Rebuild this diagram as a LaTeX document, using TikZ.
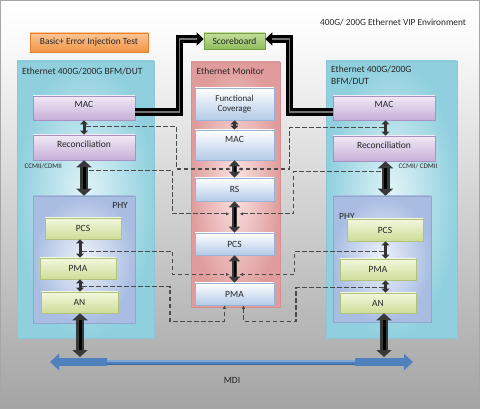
\documentclass[tikz,border=0pt]{standalone}
\usepackage{fontspec}
\setmainfont{Carlito}
\usetikzlibrary{arrows.meta,shadows,calc}
\definecolor{txt}{HTML}{262626}
\definecolor{bgbot}{HTML}{A4A4A4}
\definecolor{bgmid}{HTML}{D2D2D2}
\definecolor{bgtop}{HTML}{FAFAFA}
\definecolor{framegray}{HTML}{A6A6A6}
\definecolor{tealin}{HTML}{E2F4F8}
\definecolor{tealout}{HTML}{90D0DE}
\definecolor{tealdraw}{HTML}{8CC6D4}
\definecolor{pinkin}{HTML}{FBE4E4}
\definecolor{pinkout}{HTML}{E09C9C}
\definecolor{pinkdraw}{HTML}{D39090}
\definecolor{purtop}{HTML}{F1E9F5}
\definecolor{purbot}{HTML}{C6AFD8}
\definecolor{purdraw}{HTML}{A891C2}
\definecolor{blutop}{HTML}{FFFFFF}
\definecolor{blubot}{HTML}{B3CAE8}
\definecolor{bludraw}{HTML}{98B2D8}
\definecolor{grntop}{HTML}{F3F7DE}
\definecolor{grnbot}{HTML}{CDDD98}
\definecolor{grndraw}{HTML}{AFC27A}
\definecolor{phyin}{HTML}{EEF2FA}
\definecolor{phyout}{HTML}{A9BDE2}
\definecolor{phydraw}{HTML}{8FA6CF}
\definecolor{orgtop}{HTML}{FBC596}
\definecolor{orgbot}{HTML}{F29444}
\definecolor{orgdraw}{HTML}{E4802E}
\definecolor{sctop}{HTML}{C4DE9C}
\definecolor{scbot}{HTML}{90BE5C}
\definecolor{scdraw}{HTML}{76A044}
\definecolor{dashgray}{HTML}{4A4A4A}
\definecolor{mdiblue}{HTML}{4F81BD}
\definecolor{mdilight}{HTML}{7FA6D8}
\definecolor{mdidark}{HTML}{3A669E}
\pgfdeclareverticalshading{bgshade}{100bp}{color(0bp)=(bgbot); color(25bp)=(bgbot); color(50bp)=(bgmid); color(70bp)=(bgtop); color(75bp)=(white); color(100bp)=(white)}
\begin{document}
\begin{tikzpicture}[x=1pt,y=-1pt,
  every node/.style={font=\fontsize{9.5}{11}\selectfont, text=txt},
  lbl/.style={inner sep=0pt},
  boxshadow/.style={drop shadow={shadow xshift=1pt, shadow yshift=-1pt, opacity=0.3, fill=black}},
  container/.style={draw=tealdraw, line width=0.8pt, shading=radial, inner color=tealin, outer color=tealout, boxshadow},
  moncont/.style={draw=pinkdraw, line width=0.8pt, shading=radial, inner color=pinkin, outer color=pinkout, boxshadow},
  purbox/.style={draw=purdraw, line width=0.6pt, top color=purtop, bottom color=purbot, boxshadow},
  blubox/.style={draw=bludraw, line width=0.6pt, top color=blutop, bottom color=blubot, boxshadow},
  grnbox/.style={draw=grndraw, line width=0.6pt, top color=grntop, bottom color=grnbot, boxshadow},
  phybox/.style={draw=phydraw, line width=0.6pt, shading=radial, inner color=phyin, outer color=phyout, boxshadow},
  up/.style={text height=6.5pt, text depth=#1},
  fatarrow/.style={line width=8pt, draw=black!78, {Triangle[length=7pt,width=15pt]}-{Triangle[length=7pt,width=15pt]},
     postaction={draw=black, line width=3pt, -, shorten <=7pt, shorten >=7pt}},
  medarrow/.style={line width=5.5pt, draw=black!78, {Triangle[length=6pt,width=11pt]}-{Triangle[length=6pt,width=11pt]},
     postaction={draw=black, line width=2pt, -, shorten <=6pt, shorten >=6pt}},
  smallarrow/.style={line width=3pt, draw=black!80, {Triangle[length=4pt,width=7.5pt]}-{Triangle[length=4pt,width=7.5pt]}},
  blackbar/.style={line width=7.5pt, draw=black, -{Triangle[length=7pt,width=13pt]},
     postaction={draw=black!55, line width=1.5pt, -, shorten >=7pt}},
  dashline/.style={draw=dashgray, line width=1.1pt, dash pattern=on 4.5pt off 2.5pt, -{Latex[length=3.5pt,width=3.5pt]}},
  mdiline/.style={line width=5pt, draw=mdiblue, {Triangle[length=9pt,width=16pt]}-{Triangle[length=9pt,width=16pt]}}
]
\useasboundingbox (0,0) rectangle (480,409);
\fill[shading=bgshade] (0,0) rectangle (480,409);
\draw[framegray, line width=1pt] (0.5,0.5) rectangle (479.5,408.5);

% title
\node[lbl, anchor=west, font=\fontsize{9.3}{11}\selectfont] (title) at (320,22) {400G/ 200G Ethernet VIP Environment};

% top boxes
\node[draw=orgdraw, line width=0.6pt, top color=orgtop, bottom color=orgbot, boxshadow, minimum width=118, minimum height=19, font=\fontsize{9.4}{11}\selectfont] (test) at (89,42.5) {Basic+ Error Injection Test};
\node[draw=scdraw, line width=0.6pt, top color=sctop, bottom color=scbot, boxshadow, minimum width=61, minimum height=16, inner sep=1pt] (score) at (234.5,41) {Scoreboard};

% containers
\node[container, minimum width=137, minimum height=277] (contL) at (85.5,199.5) {};
\node[container, minimum width=131, minimum height=277] (contR) at (391.5,199.5) {};
\node[moncont, minimum width=89, minimum height=245] (mon) at (235.5,184.5) {};

\node[lbl, anchor=west] (lblL) at (22,71) {Ethernet 400G/200G BFM/DUT};
\node[lbl, anchor=north west, align=left, font=\fontsize{9.5}{12}\selectfont] (lblR) at (331,65.5) {Ethernet 400G/200G\\BFM/DUT};
\node[lbl, anchor=west] (lblM) at (196.5,71) {Ethernet Monitor};

% left stack
\node[purbox, minimum width=102, minimum height=24, up=8.4pt] (macL) at (84,108) {MAC};
\node[purbox, minimum width=102, minimum height=25, up=7.4pt] (recL) at (84,147.5) {Reconciliation};
\node[lbl, anchor=west, font=\fontsize{7}{8}\selectfont] (ccL) at (24.5,166) {CCMII/CDMII};
\node[phybox, minimum width=102, minimum height=127] (phyL) at (84,259.5) {};
\node[lbl, anchor=east] (phyLlbl) at (128,205) {PHY};
\node[grnbox, minimum width=76, minimum height=21] (pcsL) at (83,228.5) {PCS};
\node[grnbox, minimum width=76, minimum height=21] (pmaL) at (78,268.5) {PMA};
\node[grnbox, minimum width=77, minimum height=21] (anL) at (79.5,302.5) {AN};

% right stack
\node[purbox, minimum width=102, minimum height=24, up=8.4pt] (macR) at (384,108) {MAC};
\node[purbox, minimum width=102, minimum height=25, up=7.4pt] (recR) at (384,148.5) {Reconciliation};
\node[lbl, anchor=west, font=\fontsize{7}{8}\selectfont] (ccR) at (398.5,166) {CCMII/ CDMII};
\node[phybox, minimum width=98, minimum height=126] (phyR) at (382,259) {};
\node[lbl, anchor=west] (phyRlbl) at (339,216.5) {PHY};
\node[grnbox, minimum width=76, minimum height=22] (pcsR) at (385,230) {PCS};
\node[grnbox, minimum width=76, minimum height=21] (pmaR) at (378,269.5) {PMA};
\node[grnbox, minimum width=76, minimum height=20] (anR) at (378,303) {AN};

% monitor stack
\node[blubox, minimum width=79, minimum height=32, align=center, font=\fontsize{9}{10.5}\selectfont] (fc) at (234.5,104) {Functional\\Coverage};
\node[blubox, minimum width=79, minimum height=30, up=12.4pt] (macM) at (234.5,145) {MAC};
\node[blubox, minimum width=79, minimum height=23] (rsM) at (234.5,189.5) {RS};
\node[blubox, minimum width=79, minimum height=22] (pcsM) at (234.5,244) {PCS};
\node[blubox, minimum width=79, minimum height=22] (pmaM) at (234.5,294) {PMA};

\coordinate (colL) at (80,0);
\coordinate (colR) at (385.5,0);
\coordinate (colRb) at (384,0);
\coordinate (mdiL) at (50,362);
\coordinate (mdiR) at (413,362);

% MDI bus
\draw[mdiline] (mdiL) -- (mdiR);
\draw[line width=7.5pt, mdiblue] ([xshift=8]mdiL) -- ([xshift=57]mdiL);
\draw[line width=7.5pt, mdiblue] ([xshift=-58]mdiR) -- ([xshift=-8]mdiR);
\draw[line width=1.2pt, mdilight] ([xshift=57,yshift=1]mdiL) -- ([xshift=-58,yshift=1]mdiR);
\draw[line width=0.6pt, mdidark] ([xshift=57,yshift=-2.2]mdiL) -- ([xshift=-58,yshift=-2.2]mdiR);
\node[lbl] (mdi) at (232,380) {MDI};

% left arrows
\draw[smallarrow] (macL.south) -- coordinate[pos=0.45] (a1) (recL.north);
\draw[fatarrow] (recL.south) -- coordinate[pos=0.3] (a2) (phyL.north);
\draw[smallarrow] (pcsL.south -| colL) -- coordinate[pos=0.65] (a3) (pmaL.north -| colL);
\draw[smallarrow] (pmaL.south -| colL) -- coordinate[pos=0.6] (a4) (anL.north -| colL);
\draw[fatarrow] (anL.south -| colL) -- ([yshift=5]mdiL -| colL);

% right arrows
\draw[smallarrow] (macR.south -| colR) -- coordinate[pos=0.45] (b1) (recR.north -| colR);
\draw[fatarrow] (recR.south -| colR) -- coordinate[pos=0.3] (b2) (phyR.north -| colR);
\draw[smallarrow] (pcsR.south -| colR) -- coordinate[pos=0.6] (b3) (pmaR.north -| colR);
\draw[smallarrow] (pmaR.south -| colR) -- coordinate[pos=0.6] (b4) (anR.north -| colR);
\draw[fatarrow] (anR.south -| colRb) -- ([yshift=5]mdiR -| colRb);

% monitor arrows
\draw[smallarrow] (fc.south) -- coordinate (m1) (macM.north);
\draw[medarrow] (macM.south) -- coordinate[pos=0.5] (m2) (rsM.north);
\draw[medarrow] (rsM.south) -- coordinate[pos=0.4] (m3) (pcsM.north);
\draw[medarrow] (pcsM.south) -- coordinate[pos=0.7] (m4) (pmaM.north);

% scoreboard bars
\draw[blackbar] ([yshift=-4]macL.east) -| ([xshift=-24,yshift=2]score.west) -- ([yshift=2]score.west);
\draw[blackbar] ([yshift=-4]macR.west) -| ([xshift=24,yshift=2]score.east) -- ([yshift=2]score.east);

% dashed taps
\draw[dashline] ([xshift=2]a1) -| ([xshift=-58]m2) -- ([xshift=-3.5]m2);
\draw[dashline] ([xshift=-2]b1) -| ([xshift=55]m2) -- ([xshift=3.5]m2);
\draw[dashline] ([xshift=5]a2) -| ([xshift=-62]m3) -- ([xshift=-5]m3);
\draw[dashline] ([xshift=-5]b2) -| ([xshift=59]m3) -- ([xshift=5]m3);
\draw[dashline] ([xshift=2]a3) -| ([xshift=-62]m4) -- ([xshift=-5]m4);
\draw[dashline] ([xshift=-2]b3) -| ([xshift=60]m4) -- ([xshift=5]m4);
\draw[dashline] ([xshift=2]a4) -| ([xshift=-64.5,yshift=-16]pmaM.south) -| ([xshift=-10]pmaM.south);
\draw[dashline] ([xshift=-2]b4) -| ([xshift=61.5,yshift=-16]pmaM.south) -| ([xshift=9]pmaM.south);
\end{tikzpicture}
\end{document}
